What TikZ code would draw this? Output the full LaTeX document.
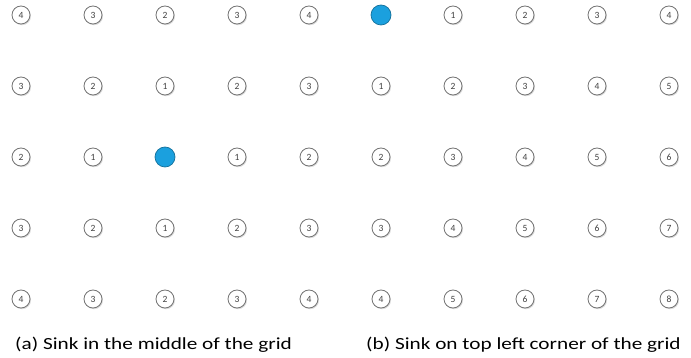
\documentclass[tikz,border=0pt]{standalone}
\usepackage{fontspec}
\setmainfont{Carlito}
\usepackage{xcolor}
\usepackage{tikz}
\usetikzlibrary{shadows}

\definecolor{sinkblue}{RGB}{27,160,222}

\begin{document}
\begin{tikzpicture}[
  x=1pt, y=-1pt,
  hop/.style={circle, draw=black!55, fill=white, line width=0.8pt,
              minimum size=18pt, inner sep=0pt, text=black!75,
              font=\fontsize{9.5}{9.5}\selectfont,
              drop shadow={shadow xshift=1pt, shadow yshift=-1.2pt, opacity=0.3}},
  sink/.style={circle, draw=sinkblue!70!black, fill=sinkblue, line width=0.7pt,
               minimum size=20pt, inner sep=0pt},
  captext/.style={anchor=west, inner sep=0pt, font=\fontsize{17}{20}\selectfont}
]
  \useasboundingbox (0,0) rectangle (691,358);

  % (a) sink in the middle
  \foreach \r in {0,...,4}{
    \foreach \c in {0,...,4}{
      \pgfmathtruncatemacro\h{abs(\r-2)+abs(\c-2)}
      \ifnum\h=0
        \node[sink] (a\r\c) at (21+72*\c, 15+71*\r) {};
      \else
        \node[hop] (a\r\c) at (21+72*\c, 15+71*\r) {\h};
      \fi
    }
  }

  % (b) sink on top left corner
  \foreach \r in {0,...,4}{
    \foreach \c in {0,...,4}{
      \pgfmathtruncatemacro\h{\r+\c}
      \ifnum\h=0
        \node[sink] (b\r\c) at (381+72*\c, 15+71*\r) {};
      \else
        \node[hop] (b\r\c) at (381+72*\c, 15+71*\r) {\h};
      \fi
    }
  }

  \node[captext] (capA) at (15,345) {\scalebox{1.25}[1]{(a) Sink in the middle of the grid}};
  \node[captext] (capB) at (366,345) {\scalebox{1.25}[1]{(b) Sink on top left corner of the grid}};
\end{tikzpicture}
\end{document}
